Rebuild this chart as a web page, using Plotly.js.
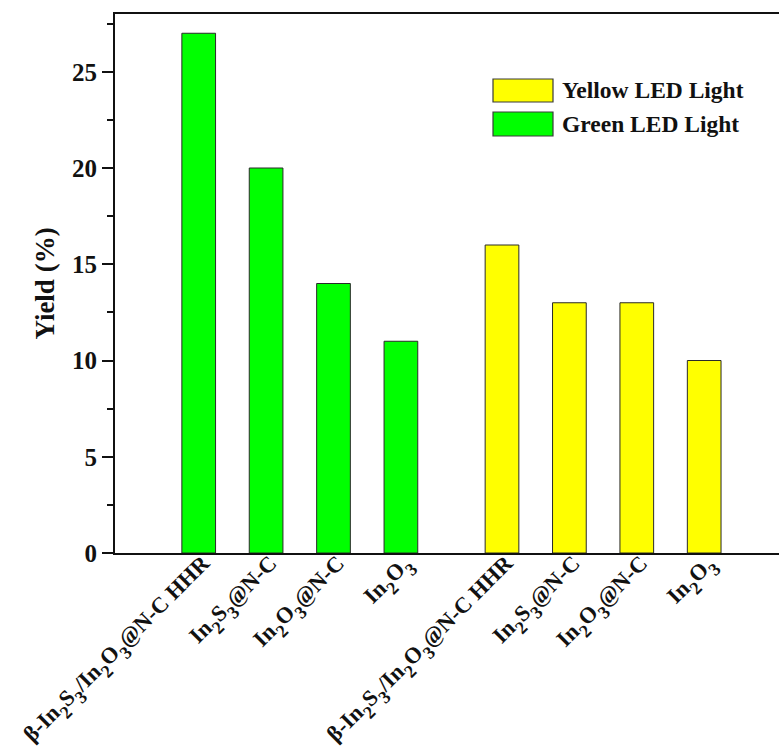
<!DOCTYPE html>
<html>
<head>
<meta charset="utf-8">
<script src="https://cdn.plot.ly/plotly-3.0.1.min.js"></script>
<style>
  html, body { margin: 0; padding: 0; background: #ffffff; }
  #chart { width: 779px; height: 756px; }
</style>
</head>
<body>
<div id="chart"></div>
<script>
// Subscript helper: larger, deeper subscript digits
const s = (d) => '<sub><sub><span style="font-size:18px">' + d + '</span></sub></sub>';

// Catalyst names shown under each bar
const catalysts = [
  "β-In" + s(2) + "S" + s(3) + "/In" + s(2) + "O" + s(3) + "@N-C HHR",
  "In" + s(2) + "S" + s(3) + "@N-C",
  "In" + s(2) + "O" + s(3) + "@N-C",
  "In" + s(2) + "O" + s(3)
];

// Bar positions on the x axis for each light source group
const greenPositions = [1, 2, 3, 4];
const yellowPositions = [5.5, 6.5, 7.5, 8.5];

// Yield (%) under each light source
const greenYield = [27, 20, 14, 11];
const yellowYield = [16, 13, 13, 10];

const seriesNames = ["Yellow LED Light", "Green LED Light"];
const seriesColors = ["#ffff00", "#00ff00"];

const FONT = "Liberation Serif, 'Times New Roman', Times, serif";

const W = 779, H = 756;
const M = { l: 115, r: 0, t: 14, b: 203 };
const plotW = W - M.l - M.r;
const plotH = H - M.t - M.b;
const px2x = (px) => (px - M.l) / plotW;
const px2y = (py) => (H - M.b - py) / plotH;

const outline = { color: "#2a2a2a", width: 1 };

const traces = [
  {
    type: "bar",
    name: seriesNames[1],
    x: greenPositions,
    y: greenYield,
    width: 0.5,
    marker: { color: seriesColors[1], line: outline },
    hoverinfo: "y"
  },
  {
    type: "bar",
    name: seriesNames[0],
    x: yellowPositions,
    y: yellowYield,
    width: 0.5,
    marker: { color: seriesColors[0], line: outline },
    hoverinfo: "y"
  }
];

// Hand-drawn legend: wide swatches with bold labels
const legendRows = [
  { name: seriesNames[0], color: seriesColors[0], top: 79, bottom: 102 },
  { name: seriesNames[1], color: seriesColors[1], top: 112, bottom: 136 }
];
const shapes = legendRows.map(r => ({
  type: "rect", xref: "paper", yref: "paper",
  x0: px2x(493), x1: px2x(553), y0: px2y(r.bottom), y1: px2y(r.top),
  fillcolor: r.color, line: { color: "#3a3a3a", width: 1.2 }
}));
const annotations = legendRows.map(r => ({
  xref: "paper", yref: "paper",
  x: px2x(560), y: px2y((r.top + r.bottom) / 2),
  xanchor: "left", yanchor: "middle", showarrow: false,
  text: r.name,
  font: { family: FONT, size: 23.5, color: "#111", weight: 700 }
}));

const layout = {
  width: W, height: H,
  margin: M,
  paper_bgcolor: "#ffffff",
  plot_bgcolor: "#ffffff",
  showlegend: false,
  bargap: 0,
  xaxis: {
    range: [-0.242, 9.61],
    tickvals: greenPositions.concat(yellowPositions),
    ticktext: catalysts.concat(catalysts),
    tickangle: -45,
    ticks: "",
    ticklabelshift: 4,
    ticklabelstandoff: -14,
    showgrid: false,
    zeroline: false,
    showline: true, linecolor: "#111", linewidth: 2,
    mirror: true,
    tickfont: { family: FONT, size: 22.5, color: "#111", weight: 700 }
  },
  yaxis: {
    range: [0, 28],
    tickvals: [0, 5, 10, 15, 20, 25],
    ticks: "outside", ticklen: 11, tickwidth: 2, tickcolor: "#111",
    minor: { dtick: 2.5, tick0: 0, ticks: "outside", ticklen: 6, tickwidth: 2, tickcolor: "#111" },
    showgrid: false,
    zeroline: false,
    showline: true, linecolor: "#111", linewidth: 2,
    tickfont: { family: FONT, size: 25, color: "#111", weight: 700 },
    title: { text: "Yield (%)", font: { family: FONT, size: 27, color: "#111", weight: 700 }, standoff: 10 }
  },
  shapes: shapes,
  annotations: annotations
};

Plotly.newPlot("chart", traces, layout, { displayModeBar: false, staticPlot: true });
</script>
</body>
</html>
